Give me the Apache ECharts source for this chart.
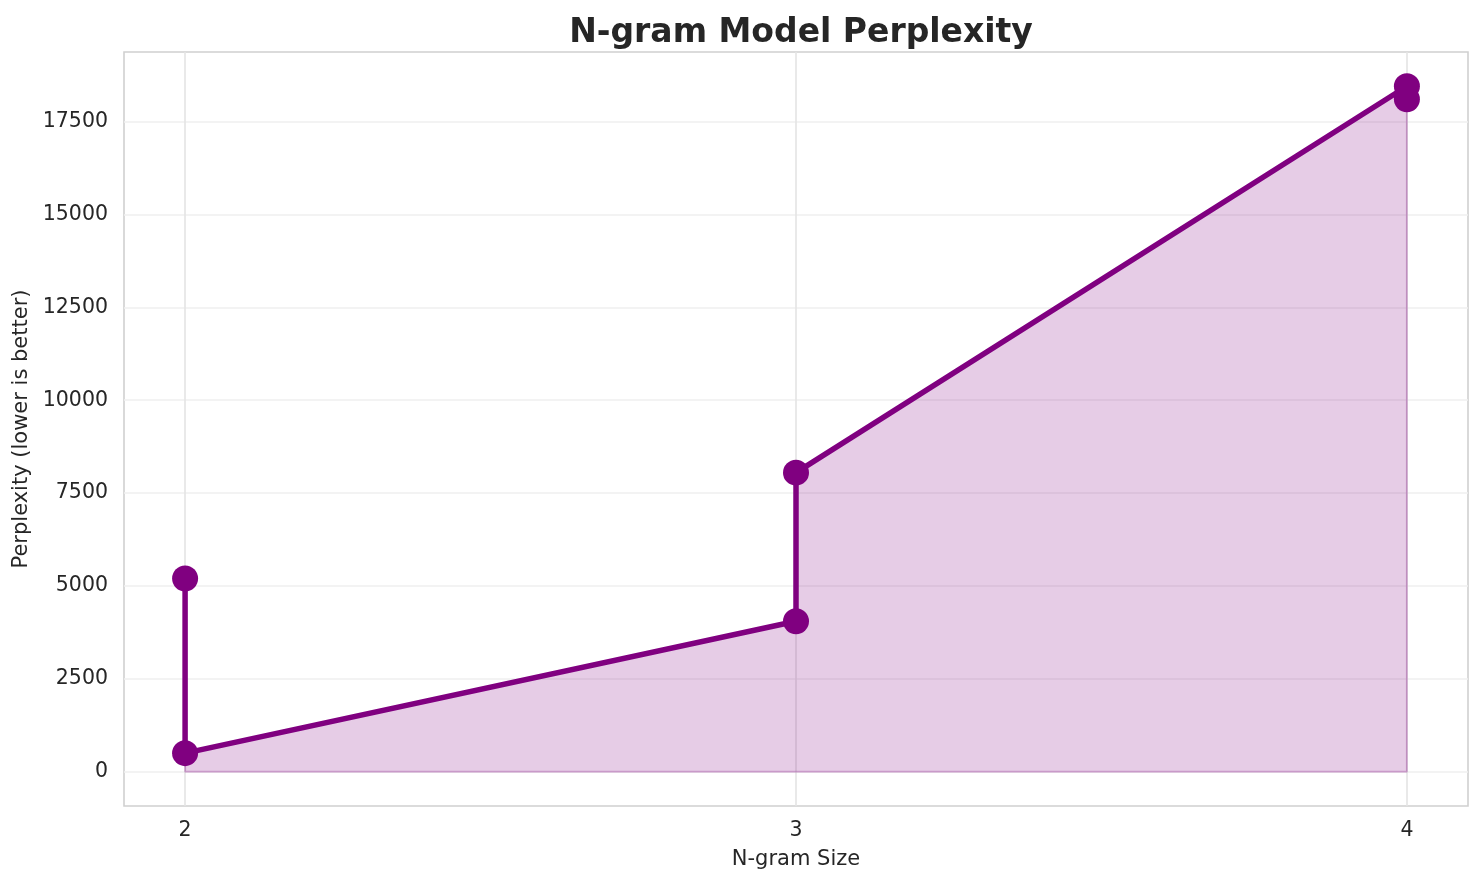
<!DOCTYPE html>
<html>
<head>
<meta charset="utf-8">
<script src="https://cdn.jsdelivr.net/npm/echarts@6/dist/echarts.min.js"></script>
<style>
html,body{margin:0;padding:0;background:#fff;}
#chart{width:1484px;height:885px;}
</style>
</head>
<body>
<div id="chart"></div>
<script>
// Data
const ngramSizes = [2, 2, 3, 3, 4, 4];
const perplexity = [5200, 500, 4050, 8050, 18450, 18100];
const xTicks = [2, 3, 4];
const yTicks = [0, 2500, 5000, 7500, 10000, 12500, 15000, 17500];

const points = ngramSizes.map((x, i) => [x, perplexity[i]]);
const last = ngramSizes.length - 1;
const edge = [
  [ngramSizes[0], perplexity[0]],
  [ngramSizes[0], 0],
  [ngramSizes[last], 0],
  [ngramSizes[last], perplexity[last]]
];

const yMaxData = Math.max(...perplexity);
const pad = yMaxData * 0.05;

const txt = '#262626';
const chart = echarts.init(document.getElementById('chart'));
chart.setOption({
  animation: false,
  backgroundColor: '#ffffff',
  title: {
    text: 'N-gram Model Perplexity',
    left: 796,
    textAlign: 'center',
    top: 12,
    textStyle: { fontFamily: 'DejaVu Sans', fontWeight: 'bold', fontSize: 33, color: txt }
  },
  grid: {
    left: 124, right: 16, top: 52, bottom: 79,
    show: true, borderColor: '#d0d0d0', borderWidth: 1.6, backgroundColor: 'transparent'
  },
  xAxis: {
    type: 'value',
    min: 1.9, max: 4.1,
    name: 'N-gram Size',
    nameLocation: 'middle',
    nameGap: 43,
    nameTextStyle: { fontFamily: 'DejaVu Sans', fontSize: 21, color: txt },
    axisLine: { show: false },
    axisTick: { show: false, customValues: xTicks },
    axisLabel: { customValues: xTicks, fontFamily: 'DejaVu Sans', fontSize: 20.5, color: txt, margin: 14,
      formatter: v => String(v) },
    splitLine: { show: true, lineStyle: { color: '#e4e4e4', width: 1.6 } }
  },
  yAxis: {
    type: 'value',
    min: -pad, max: yMaxData + pad,
    name: 'Perplexity (lower is better)',
    nameLocation: 'middle',
    nameGap: 86,
    nameTextStyle: { fontFamily: 'DejaVu Sans', fontSize: 21, color: txt },
    axisLine: { show: false },
    axisTick: { show: false, customValues: yTicks },
    axisLabel: { customValues: yTicks, fontFamily: 'DejaVu Sans', fontSize: 20.5, color: txt, margin: 16,
      formatter: v => String(v) },
    splitLine: { show: true, lineStyle: { color: '#efefef', width: 1.6 } }
  },
  series: [
    {
      type: 'line',
      data: edge,
      showSymbol: false,
      silent: true,
      z: 1,
      lineStyle: { color: 'rgba(128,0,128,0.25)', width: 2 }
    },
    {
      type: 'line',
      data: points,
      z: 3,
      symbol: 'circle',
      symbolSize: 26,
      showSymbol: true,
      itemStyle: { color: '#800080' },
      lineStyle: { color: '#800080', width: 5.5 },
      areaStyle: { color: 'rgba(128,0,128,0.2)', opacity: 1, origin: 'auto' }
    }
  ]
});
</script>
</body>
</html>
